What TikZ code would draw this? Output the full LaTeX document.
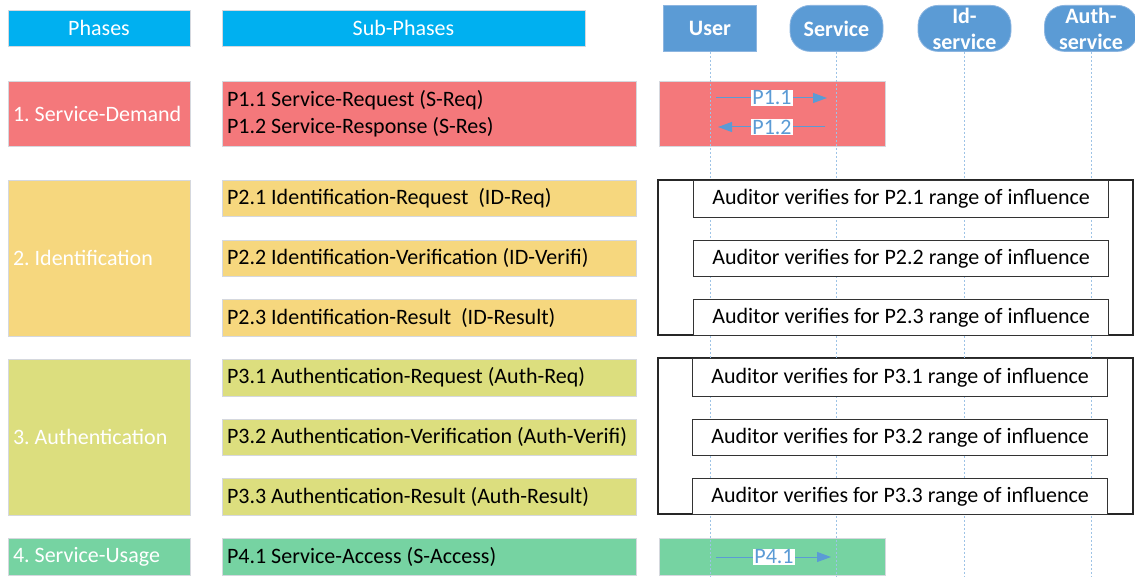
\documentclass[tikz,border=0pt]{standalone}
\usepackage{fontspec}
\setmainfont{Carlito}
\usetikzlibrary{arrows.meta}
\frenchspacing
\hyphenpenalty=10000
\exhyphenpenalty=10000
% keep the font's own interword space inside ragged node text
\newcommand\fontspaces{\spaceskip=0pt\xspaceskip=0pt\relax}

\definecolor{hdrcyan}{HTML}{00B0F0}
\definecolor{actblue}{HTML}{5B9BD5}
\definecolor{actedge}{HTML}{8CB5E0}
\definecolor{demandred}{HTML}{F4787B}
\definecolor{identyellow}{HTML}{F6D77E}
\definecolor{authlime}{HTML}{DCDE7E}
\definecolor{usagegreen}{HTML}{76D3A2}
\definecolor{lifeblue}{HTML}{9DC3E6}
\definecolor{boxedge}{HTML}{D5D8DE}

\tikzset{
  txt/.style={font=\fontsize{22}{27}\selectfont},
  base/.style={txt, anchor=north west, inner ysep=0pt, outer sep=0pt,
    draw=boxedge, line width=0.8pt},
  header/.style={base, fill=hdrcyan, text=white, align=center, inner xsep=0pt},
  phasebox/.style={base, text=white, align=left, inner xsep=5pt, text width=172pt,
    execute at begin node=\fontspaces},
  subbox/.style={base, text=black, align=left, inner xsep=5pt, text width=404pt,
    execute at begin node=\fontspaces},
  seqbox/.style={base, inner sep=0pt, minimum width=226pt},
  actor/.style={txt, font=\fontsize{22}{26}\selectfont\bfseries, fill=actblue,
    draw=actedge, line width=0.8pt, text=white, align=center,
    minimum width=93pt, minimum height=46pt, inner sep=0pt, anchor=north},
  lifeline/.style={draw=lifeblue, line width=0.6pt, dash pattern=on 2pt off 2pt},
  frame/.style={draw=black!85, line width=1.2pt},
  audit/.style={txt, draw=black!80, line width=1.2pt, fill=white, anchor=north west,
    minimum width=415pt, inner sep=0pt},
  msg/.style={draw=actblue, line width=1pt, -{Triangle[length=14pt,width=10pt]}},
  msglabel/.style={txt, fill=white, text=actblue, inner xsep=1pt, inner ysep=1pt}
}

\begin{document}
\begin{tikzpicture}[x=1pt,y=-1pt]
\useasboundingbox (0,0) rectangle (1135,577);

% column headers
\node[header, minimum width=182pt, minimum height=36pt] (hphase) at (8,10) {Phases};
\node[header, minimum width=363pt, minimum height=36pt] (hsub) at (222,10) {Sub-Phases};

% participants
\node[actor] (user) at (710,5) {User};
\node[actor, rounded corners=20pt] (service) at (836.5,5) {Service};
\node[actor, rounded corners=20pt] (idsvc) at (964.5,5) {Id-\\service};
\node[actor, rounded corners=20pt] (authsvc) at (1091,5) {Auth-\\service};

% phase 1: service demand
\node[phasebox, fill=demandred, minimum height=65pt] (ph1) at (8,81) {1. Service-Demand};
\node[subbox, fill=demandred, minimum height=65pt] (p11) at (222,81)
  {P1.1 Service-Request (S-Req)\\P1.2 Service-Response (S-Res)};
\node[seqbox, fill=demandred, minimum height=65pt] (seq1) at (659,81) {};

% phase 2: identification
\node[phasebox, fill=identyellow, minimum height=156pt] (ph2) at (8,180) {2. Identification};
\node[subbox, fill=identyellow, minimum height=36pt] (p21) at (222,180)
  {P2.1 Identification-Request~ (ID-Req)};
\node[subbox, fill=identyellow, minimum height=36pt] (p22) at (222,240)
  {P2.2 Identification-Verification (ID-Verifi)};
\node[subbox, fill=identyellow, minimum height=37pt] (p23) at (222,299)
  {P2.3 Identification-Result~ (ID-Result)};

% phase 3: authentication
\node[phasebox, fill=authlime, minimum height=156pt] (ph3) at (8,359) {3. Authentication};
\node[subbox, fill=authlime, minimum height=37pt] (p31) at (222,359)
  {P3.1 Authentication-Request (Auth-Req)};
\node[subbox, fill=authlime, minimum height=36pt] (p32) at (222,419)
  {P3.2 Authentication-Verification (Auth-Verifi)};
\node[subbox, fill=authlime, minimum height=37pt] (p33) at (222,478)
  {P3.3 Authentication-Result (Auth-Result)};

% phase 4: service usage
\node[phasebox, fill=usagegreen, minimum height=37pt] (ph4) at (8,538) {4. Service-Usage};
\node[subbox, fill=usagegreen, minimum height=37pt] (p41) at (222,538)
  {P4.1 Service-Access (S-Access)};
\node[seqbox, fill=usagegreen, minimum height=37pt] (seq4) at (659,538) {};

% auditor frames
\draw[frame] (658,180) rectangle (1133,335);
\draw[frame] (658,358) rectangle (1133,514);

% lifelines
\foreach \a in {user,service,idsvc,authsvc}
  \draw[lifeline] (\a.south) -- (\a.south |- 0,577);

% auditor checks
\node[audit, minimum height=37pt] (a21) at (693,180) {Auditor verifies for P2.1 range of influence};
\node[audit, minimum height=36pt] (a22) at (693,240) {Auditor verifies for P2.2 range of influence};
\node[audit, minimum height=36pt] (a23) at (693,299) {Auditor verifies for P2.3 range of influence};
\node[audit, minimum height=38pt] (a31) at (692,358) {Auditor verifies for P3.1 range of influence};
\node[audit, minimum height=36pt] (a32) at (692,419) {Auditor verifies for P3.2 range of influence};
\node[audit, minimum height=36pt] (a33) at (692,478) {Auditor verifies for P3.3 range of influence};

% messages
\coordinate (m11s) at (716,98);  \coordinate (m11e) at (827,98);
\coordinate (m12s) at (825,127); \coordinate (m12e) at (718,127);
\coordinate (m41s) at (716,557); \coordinate (m41e) at (831,557);
\draw[msg] (m11s) -- (m11e);
\draw[msg] (m12s) -- (m12e);
\draw[msg] (m41s) -- (m41e);
\node[msglabel] (l11) at (772,98) {P1.1};
\node[msglabel] (l12) at (772,127) {P1.2};
\node[msglabel] (l41) at (774,557) {P4.1};
\end{tikzpicture}
\end{document}
